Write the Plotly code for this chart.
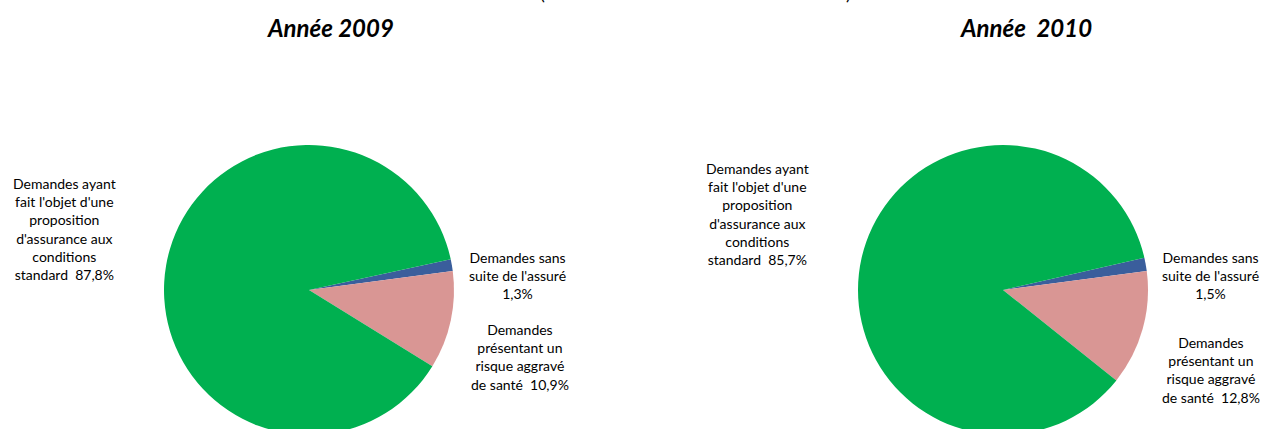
import plotly.graph_objects as go

# Data
years = ["Année 2009", "Année  2010"]
subtitle = "(en % du nombre de demandes traitées)"
categories = [
    "Demandes sans<br>suite de l'assuré",
    "Demandes<br>présentant un<br>risque aggravé<br>de santé",
    "Demandes ayant<br>fait l'objet d'une<br>proposition<br>d'assurance aux<br>conditions<br>standard",
]
values_2009 = [1.3, 10.9, 87.8]
values_2010 = [1.5, 12.8, 85.7]
colors = ["#3A5E9C", "#D99694", "#00B050"]

W, H = 1263, 440
FONT = "Lato"

def fmt(v):
    return f"{v:.1f}".replace(".", ",") + "%"

fig = go.Figure()

def px_dom(cx, cy, r):
    return dict(x=[(cx - r) / W, (cx + r) / W], y=[(H - (cy + r)) / H, (H - (cy - r)) / H])

centers = [(309, 290), (1003, 290)]
rotations = [77.8, 77.1]
for vals, (cx, cy), rot in zip([values_2009, values_2010], centers, rotations):
    fig.add_trace(go.Pie(
        labels=[c.replace("<br>", " ") for c in categories],
        values=vals,
        marker=dict(colors=colors, line=dict(width=0)),
        sort=False,
        direction="clockwise",
        rotation=rot,
        textinfo="none",
        hoverinfo="label+percent",
        showlegend=False,
        domain=px_dom(cx, cy, 145),
    ))

def ann(x, y, text, size=14, **kw):
    fig.add_annotation(x=x / W, y=(H - y) / H, xref="paper", yref="paper",
                       text=text, showarrow=False, xanchor="center", yanchor="middle",
                       font=dict(family=FONT, size=size, color="#000000"), align="center", **kw)

# Partially visible heading (cut at the top edge, as in the reference)
ann(695, -7, subtitle, size=18)

# Titles
ann(330, 27, "<b><i>%s</i></b>" % years[0], size=24)
ann(1026, 27, "<b><i>%s</i></b>" % years[1], size=24)

# Labels 2009
ann(64, 229, categories[2] + "  " + fmt(values_2009[2]))
ann(517, 276, categories[0] + "<br>" + fmt(values_2009[0]))
ann(520, 357, categories[1] + "  " + fmt(values_2009[1]))
# Labels 2010
ann(757, 214, categories[2] + "  " + fmt(values_2010[2]))
ann(1210, 276, categories[0] + "<br>" + fmt(values_2010[0]))
ann(1211, 370, categories[1] + "  " + fmt(values_2010[1]))

fig.update_layout(
    width=W, height=H,
    margin=dict(l=0, r=0, t=0, b=0),
    paper_bgcolor="white", plot_bgcolor="white",
    font=dict(family=FONT),
)

fig.write_html("out.html", config={"displayModeBar": False},
               post_script="document.body.style.overflow='hidden';document.body.style.margin='0';")
